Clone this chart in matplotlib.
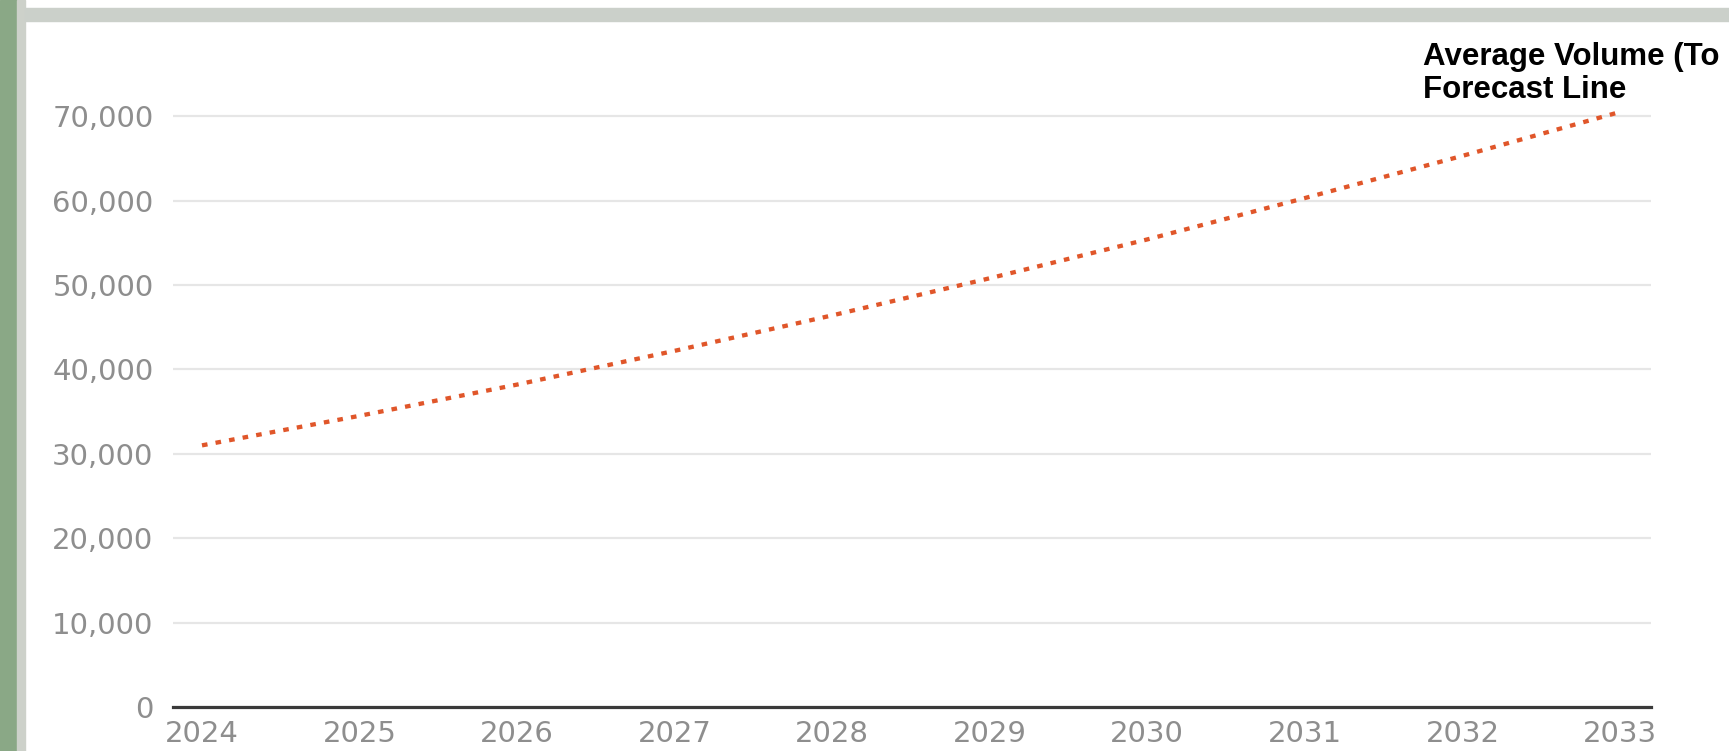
import matplotlib.pyplot as plt
from matplotlib.patches import Rectangle
from matplotlib.ticker import FuncFormatter

# forecast values
years = [2024, 2025, 2026, 2027, 2028, 2029, 2030, 2031, 2032, 2033]
volume = [31000, 34500, 38200, 42200, 46400, 50800, 55400, 60300, 65300, 70500]
y_ticks = [0, 10000, 20000, 30000, 40000, 50000, 60000, 70000]
# the reference cuts the label at the right edge of the image
title_text = "Average Volume (To\nForecast Line"

plt.rcParams['font.family'] = ['DejaVu Sans']

fig = plt.figure(figsize=(17.29, 7.51), dpi=100)

# slide background bits: green strip on the left, grey band on top
fig.patches.append(Rectangle((0, 0), 17 / 1729, 1, transform=fig.transFigure,
                             color='#8aa886', zorder=0))
fig.patches.append(Rectangle((17 / 1729, 0), 8 / 1729, 1, transform=fig.transFigure,
                             color='#cdd1ca', zorder=0))
fig.patches.append(Rectangle((25 / 1729, 1 - 21 / 751), 1, 13 / 751,
                             transform=fig.transFigure, color='#cbd0ca', zorder=0))

ax = fig.add_axes([173 / 1729, 44 / 751, (1651 - 173) / 1729, (707 - 74) / 751])

ax.plot(years, volume, color='#e0562a', lw=3.1, dashes=(1.3, 1.9),
        dash_capstyle='butt', zorder=3)

ax.set_xlim(2023.816, 2033.197)
ax.set_ylim(0, 75000)
ax.set_xticks(years)
ax.set_yticks(y_ticks)
ax.yaxis.set_major_formatter(FuncFormatter(lambda v, p: f"{int(v):,}"))

ax.grid(axis='y', color='#e6e6e6', lw=1.6)
ax.set_axisbelow(True)
for s in ['top', 'right', 'left']:
    ax.spines[s].set_visible(False)
ax.spines['bottom'].set_color('#3a3a3a')
ax.spines['bottom'].set_linewidth(2.3)
ax.spines['bottom'].set_zorder(4)

ax.tick_params(axis='both', length=0, labelsize=21, labelcolor='#8e8e8e')
ax.tick_params(axis='y', pad=14)
ax.tick_params(axis='x', pad=9)

fig.text(1423 / 1729, 1 - 42 / 751, title_text, fontsize=22.5, fontweight='bold',
         family=['Liberation Sans', 'DejaVu Sans'], va='top', ha='left',
         linespacing=1.12, color='black')

fig.savefig('out.png', dpi=100)
